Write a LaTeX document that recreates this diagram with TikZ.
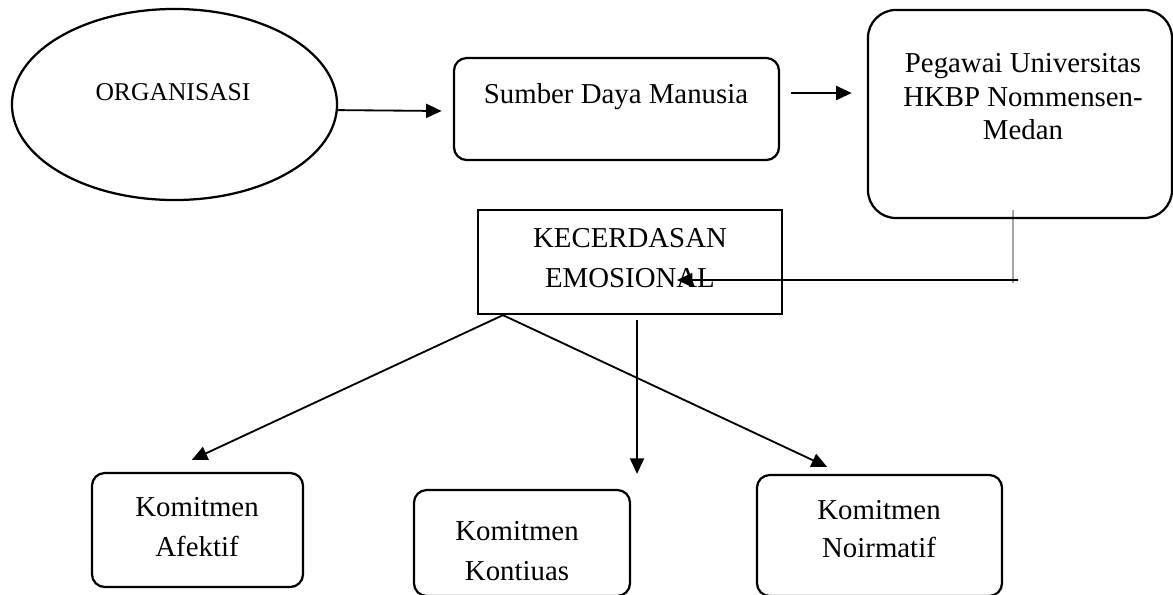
\documentclass[tikz,border=0pt]{standalone}
\usepackage{fontspec}
\setmainfont{Liberation Serif}
\usetikzlibrary{arrows.meta,positioning,calc}
\usetikzlibrary{shapes.geometric}

\begin{document}
\begin{tikzpicture}[x=0.025cm,y=-0.025cm,
oval/.style={ellipse,draw,line width=1.6pt,inner sep=0pt},
rbox/.style={draw,line width=1.6pt,rounded corners=0.32cm,inner sep=0pt},
sbox/.style={draw,line width=1.6pt,inner sep=0pt},
txt/.style={align=center,inner sep=0pt,font=\fontsize{20.5}{28}\selectfont},
arr/.style={line width=1.3pt,-{Triangle[length=11pt,width=10pt]}}]
\useasboundingbox (0,0) rectangle (1173,594);
% shapes
\node[oval,minimum width=8.125cm,minimum height=4.775cm] (org) at (174.5,104.5) {};
\node[rbox,minimum width=8.125cm,minimum height=2.55cm] (sdm) at (616.5,109) {};
\node[rbox,rounded corners=0.7cm,minimum width=7.6cm,minimum height=5.2cm] (peg) at (1020,114) {};
\node[sbox,minimum width=7.6cm,minimum height=2.6cm] (kec) at (630,262) {};
\node[rbox,minimum width=5.275cm,minimum height=2.85cm] (afk) at (197.5,530) {};
\node[rbox,minimum width=5.4cm,minimum height=2.65cm] (kon) at (522,543) {};
\node[rbox,minimum width=6.125cm,minimum height=3.025cm] (nor) at (879.5,535.5) {};
% texts
\node[txt,font=\fontsize{18.2}{22}\selectfont] (orgT) at (173,92) {ORGANISASI};
\node[txt] (sdmT) at (616,97) {Sumber Daya Manusia};
\node[txt,font=\fontsize{20.5}{23.8}\selectfont] (pegT) at (1023,97) {Pegawai Universitas\\HKBP Nommensen-\\Medan};
\node[txt] (kecT) at (630,258) {KECERDASAN\\EMOSIONAL};
\node[txt] (afkT) at (197,527) {Komitmen\\Afektif};
\node[txt] (konT) at (517,551) {Komitmen\\Kontiuas};
\node[txt,font=\fontsize{20.5}{26.5}\selectfont] (norT) at (879,529) {Komitmen\\Noirmatif};
% connectors
\coordinate (bend) at (1018,280);
\coordinate (fork) at ([xshift=-3.175cm]kec.south);
\draw[arr] ([yshift=-0.14cm]org.east) -- ([yshift=-0.05cm,xshift=-0.28cm]sdm.west);
\draw[arr] ([yshift=0.4cm,xshift=0.28cm]sdm.east) -- ([yshift=0.4cm,xshift=-0.38cm]sdm.east -| peg.west);
\draw[line width=0.7pt] ([xshift=-0.175cm,yshift=0.225cm]peg.south) -- ([xshift=-0.125cm,yshift=-0.075cm]bend);
\draw[arr] (bend) -- ([xshift=1.175cm,yshift=-0.45cm]kec.center);
\draw[arr] (fork) -- ([xshift=-0.14cm,yshift=0.3cm]afk.north);
\draw[arr] (fork) -- ([xshift=-1.31cm,yshift=0.175cm]nor.north);
\draw[arr] ([xshift=0.175cm,yshift=-0.125cm]kec.south) -- ([xshift=2.875cm,yshift=0.375cm]kon.north);
\end{tikzpicture}
\end{document}
